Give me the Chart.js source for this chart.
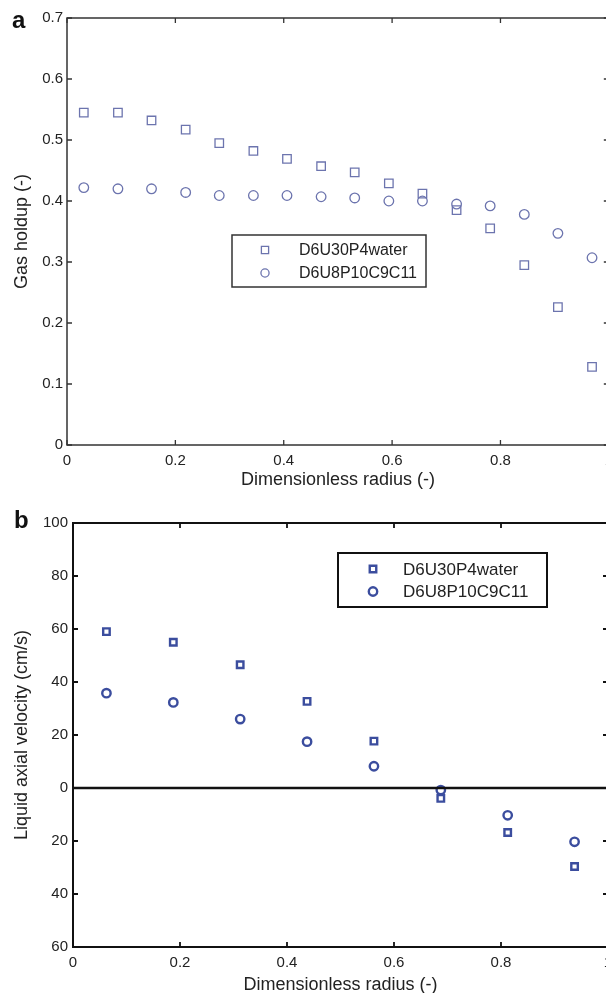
<!DOCTYPE html>
<html lang="en">
<head>
<meta charset="UTF-8">
<title>Gas holdup and liquid axial velocity</title>
<script src="https://cdn.jsdelivr.net/npm/chart.js"></script>
<style>
    body {
        margin: 0;
        width: 606px;
        height: 993px;
        overflow: hidden;
        background: #fff;
    }
    .panel { position: absolute; left: 0; }
    #wrapA { top: 0; }
    #wrapB { top: 490px; }
</style>
</head>
<body>
<div class="panel" id="wrapA"><canvas id="chartA" width="620" height="490"></canvas></div>
<div class="panel" id="wrapB"><canvas id="chartB" width="620" height="503"></canvas></div>

<script>
// series names
const seriesNames = ['D6U30P4water', 'D6U8P10C9C11'];

// panel a : gas holdup vs dimensionless radius
const radiusA = [0.031, 0.094, 0.156, 0.219, 0.281, 0.344, 0.406, 0.469,
                 0.531, 0.594, 0.656, 0.719, 0.781, 0.844, 0.906, 0.969];
const holdupWater = [0.545, 0.545, 0.532, 0.517, 0.495, 0.482, 0.469, 0.457,
                     0.447, 0.429, 0.412, 0.385, 0.355, 0.295, 0.226, 0.128];
const holdupOil = [0.422, 0.420, 0.420, 0.414, 0.409, 0.409, 0.409, 0.407,
                   0.405, 0.400, 0.400, 0.395, 0.392, 0.378, 0.347, 0.307];

// panel b : liquid axial velocity vs dimensionless radius
const radiusB = [0.0625, 0.1875, 0.3125, 0.4375, 0.5625, 0.6875, 0.8125, 0.9375];
const velocityWater = [59.0, 55.0, 46.5, 32.7, 17.7, -3.9, -16.8, -29.6];
const velocityOil = [35.8, 32.3, 26.0, 17.5, 8.2, -0.8, -10.3, -20.3];

// ticks
const xTicks = [0, 0.2, 0.4, 0.6, 0.8, 1];
const xTickLabels = ['0', '0.2', '0.4', '0.6', '0.8', '1'];
const yTicksA = [0, 0.1, 0.2, 0.3, 0.4, 0.5, 0.6, 0.7];
const yTickLabelsA = ['0', '0.1', '0.2', '0.3', '0.4', '0.5', '0.6', '0.7'];
const yTicksB = [-60, -40, -20, 0, 20, 40, 60, 80, 100];
const yTickLabelsB = ['60', '40', '20', '0', '20', '40', '60', '80', '100'];

const FONT = "'Liberation Sans', Arial, Helvetica, sans-serif";
const TEXT = '#222';

function toPoints(xs, ys) {
    return xs.map((x, i) => ({ x: x, y: ys[i] }));
}

function setTicks(values) {
    return scale => { scale.ticks = values.map(v => ({ value: v })); };
}

function labelFrom(values, labels) {
    return value => {
        const i = values.findIndex(v => Math.abs(v - value) < 1e-9);
        return i >= 0 ? labels[i] : '';
    };
}

function drawMarker(ctx, style, x, y, r, color, bw) {
    ctx.save();
    ctx.strokeStyle = color;
    ctx.lineWidth = bw;
    ctx.beginPath();
    if (style === 'rect') {
        const s = Math.SQRT1_2 * r;
        ctx.rect(x - s, y - s, 2 * s, 2 * s);
    } else {
        ctx.arc(x, y, r, 0, Math.PI * 2);
    }
    ctx.stroke();
    ctx.restore();
}

// box round the plot, inward ticks on all four sides, optional zero line, panel letter
const framePlugin = {
    id: 'frame',
    afterDraw(chart, args, o) {
        const { ctx, chartArea: a, scales } = chart;
        ctx.save();
        ctx.strokeStyle = o.color;
        if (o.zeroWidth) {
            const y0 = scales.y.getPixelForValue(0);
            ctx.lineWidth = o.zeroWidth;
            ctx.beginPath();
            ctx.moveTo(a.left, y0);
            ctx.lineTo(a.right, y0);
            ctx.stroke();
        }
        ctx.lineWidth = o.width;
        ctx.strokeRect(a.left, a.top, a.right - a.left, a.bottom - a.top);
        ctx.lineWidth = o.tickWidth;
        ctx.beginPath();
        scales.x.ticks.forEach(t => {
            const x = scales.x.getPixelForValue(t.value);
            ctx.moveTo(x, a.bottom); ctx.lineTo(x, a.bottom - o.tickLen);
            ctx.moveTo(x, a.top); ctx.lineTo(x, a.top + o.tickLen);
        });
        scales.y.ticks.forEach(t => {
            const y = scales.y.getPixelForValue(t.value);
            ctx.moveTo(a.left, y); ctx.lineTo(a.left + o.tickLen, y);
            ctx.moveTo(a.right, y); ctx.lineTo(a.right - o.tickLen, y);
        });
        ctx.stroke();
        ctx.fillStyle = '#111';
        ctx.font = o.letterFont;
        ctx.textBaseline = 'alphabetic';
        ctx.textAlign = 'left';
        ctx.fillText(o.letter, o.letterX, o.letterY);
        ctx.restore();
    }
};

// boxed legend placed inside the plot
const boxLegend = {
    id: 'boxLegend',
    afterDraw(chart, args, o) {
        const ctx = chart.ctx;
        ctx.save();
        ctx.fillStyle = '#fff';
        ctx.fillRect(o.left, o.top, o.width, o.height);
        ctx.lineWidth = o.lineWidth;
        ctx.strokeStyle = o.lineColor;
        ctx.strokeRect(o.left, o.top, o.width, o.height);
        chart.data.datasets.forEach((ds, i) => {
            const y = o.top + o.firstRow + i * o.rowGap;
            drawMarker(ctx, ds.pointStyle, o.markerX, y, ds.pointRadius * o.markerScale,
                       ds.borderColor, ds.borderWidth);
            ctx.fillStyle = TEXT;
            ctx.font = o.font;
            ctx.textBaseline = 'middle';
            ctx.textAlign = 'left';
            ctx.fillText(ds.label, o.textX, y + 1);
        });
        ctx.restore();
    }
};

function makeChart(id, cfg) {
    return new Chart(document.getElementById(id), {
        type: 'scatter',
        data: { datasets: cfg.datasets },
        options: {
            responsive: false,
            animation: false,
            devicePixelRatio: 1,
            layout: { padding: cfg.padding },
            events: [],
            scales: {
                x: {
                    type: 'linear',
                    min: 0, max: 1,
                    afterBuildTicks: setTicks(xTicks),
                    afterFit: s => { s.height = cfg.xAxisHeight; },
                    grid: { display: false, drawTicks: false },
                    border: { display: false },
                    ticks: {
                        padding: cfg.xTickPad,
                        color: TEXT,
                        font: { family: FONT, size: 15 },
                        maxRotation: 0,
                        callback: labelFrom(xTicks, xTickLabels)
                    },
                    title: {
                        display: true,
                        text: 'Dimensionless radius (-)',
                        color: TEXT,
                        font: { family: FONT, size: 18, lineHeight: 1 },
                        padding: { top: 0, bottom: cfg.xTitlePad }
                    }
                },
                y: {
                    type: 'linear',
                    min: cfg.yMin, max: cfg.yMax,
                    afterBuildTicks: setTicks(cfg.yTicks),
                    afterFit: s => { s.width = cfg.yAxisWidth; },
                    grid: { display: false, drawTicks: false },
                    border: { display: false },
                    ticks: {
                        padding: cfg.yTickPad,
                        color: TEXT,
                        font: { family: FONT, size: 15 },
                        callback: labelFrom(cfg.yTicks, cfg.yTickLabels)
                    },
                    title: {
                        display: true,
                        text: cfg.yTitle,
                        color: TEXT,
                        font: { family: FONT, size: 18, lineHeight: 1.2 },
                        padding: { top: 11, bottom: 0 }
                    }
                }
            },
            plugins: {
                legend: { display: false },
                tooltip: { enabled: false },
                frame: cfg.frame,
                boxLegend: cfg.legend
            }
        },
        plugins: [framePlugin, boxLegend]
    });
}

const colorA = '#6c74ae';
const colorB = '#3b4d9e';

makeChart('chartA', {
    padding: { left: 0, right: 9, top: 18, bottom: 0 },
    xAxisHeight: 45, yAxisWidth: 67,
    xTickPad: 7, yTickPad: 4, xTitlePad: 1,
    yMin: 0, yMax: 0.7,
    yTicks: yTicksA, yTickLabels: yTickLabelsA,
    yTitle: 'Gas holdup (-)',
    datasets: [
        { label: seriesNames[0], data: toPoints(radiusA, holdupWater), pointStyle: 'rect',
          pointRadius: 6, borderColor: colorA, backgroundColor: 'rgba(0,0,0,0)', borderWidth: 1.3 },
        { label: seriesNames[1], data: toPoints(radiusA, holdupOil), pointStyle: 'circle',
          pointRadius: 4.8, borderColor: colorA, backgroundColor: 'rgba(0,0,0,0)', borderWidth: 1.3 }
    ],
    frame: { color: '#333', width: 1.5, tickWidth: 1.3, tickLen: 5,
             letter: 'a', letterFont: `bold 24px ${FONT}`, letterX: 12, letterY: 28 },
    legend: { left: 232, top: 235, width: 194, height: 52, lineWidth: 1.5, lineColor: '#333',
              markerX: 265, textX: 299, firstRow: 15, rowGap: 23, markerScale: 0.85,
              font: `16px ${FONT}` }
});

makeChart('chartB', {
    padding: { left: 0, right: 12, top: 33, bottom: 0 },
    xAxisHeight: 46, yAxisWidth: 73,
    xTickPad: 7, yTickPad: 5, xTitlePad: -1,
    yMin: -60, yMax: 100,
    yTicks: yTicksB, yTickLabels: yTickLabelsB,
    yTitle: 'Liquid axial velocity (cm/s)',
    datasets: [
        { label: seriesNames[0], data: toPoints(radiusB, velocityWater), pointStyle: 'rect',
          pointRadius: 4.6, borderColor: colorB, backgroundColor: 'rgba(0,0,0,0)', borderWidth: 2.4 },
        { label: seriesNames[1], data: toPoints(radiusB, velocityOil), pointStyle: 'circle',
          pointRadius: 4.2, borderColor: colorB, backgroundColor: 'rgba(0,0,0,0)', borderWidth: 2.4 }
    ],
    frame: { color: '#111', width: 2, tickWidth: 1.8, tickLen: 5, zeroWidth: 2.5,
             letter: 'b', letterFont: `bold 24px ${FONT}`, letterX: 14, letterY: 38 },
    legend: { left: 338, top: 63, width: 209, height: 54, lineWidth: 2, lineColor: '#111',
              markerX: 373, textX: 403, firstRow: 16, rowGap: 22.5, markerScale: 1,
              font: `17px ${FONT}` }
});
</script>
</body>
</html>
